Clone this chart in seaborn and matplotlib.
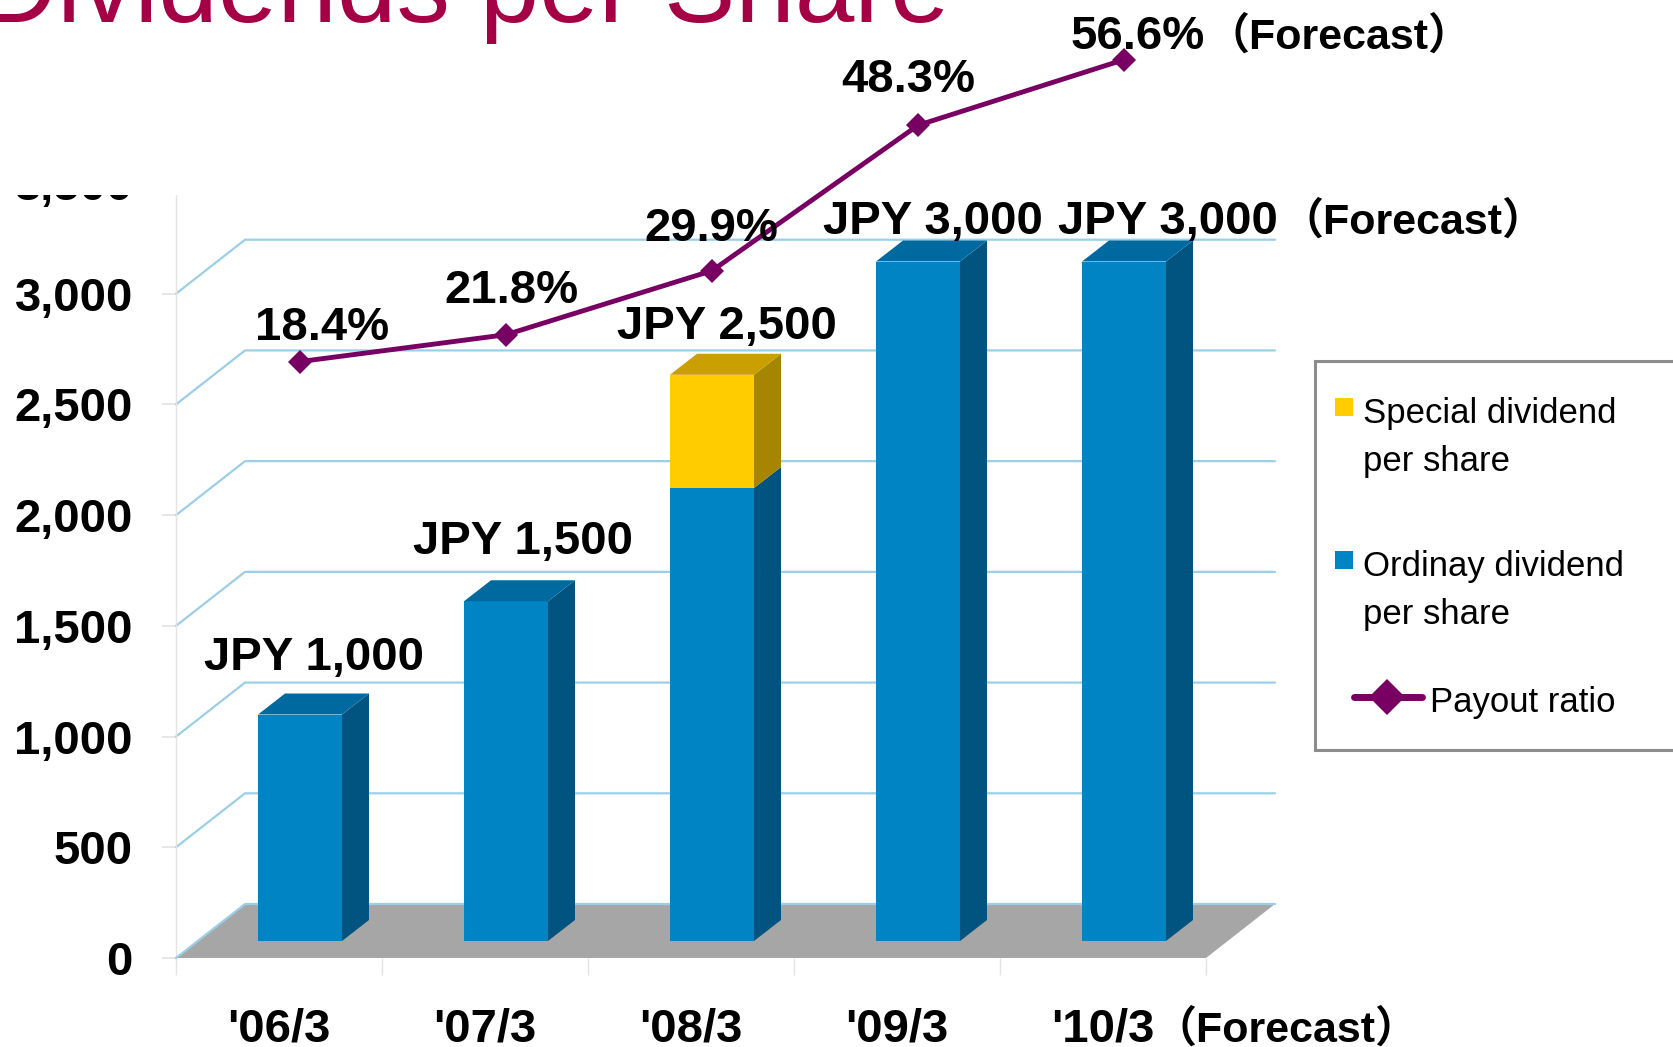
import numpy as np
import matplotlib.pyplot as plt
import matplotlib.patches as mpatches
from matplotlib.lines import Line2D
from matplotlib import font_manager
import seaborn as sns


# ------------------
# データ
# ------------------
PERIODS = ["'06/3", "'07/3", "'08/3", "'09/3", "'10/3"]
IS_FORECAST = [False, False, False, False, True]
ORDINARY_DPS = [1000, 1500, 2000, 3000, 3000]     # 普通配当 (JPY)
SPECIAL_DPS = [0, 0, 500, 0, 0]                   # 特別配当 (JPY)
PAYOUT_RATIO = [18.4, 21.8, 29.9, 48.3, 56.6]     # 配当性向 (%)
DPS_LABELS = ['JPY 1,000', 'JPY 1,500', 'JPY 2,500', 'JPY 3,000', 'JPY 3,000']
PAYOUT_LABELS = ['18.4%', '21.8%', '29.9%', '48.3%', '56.6%']
FORECAST_TEXT = '（Forecast）'
Y_TICKS = [0, 500, 1000, 1500, 2000, 2500, 3000, 3500]
LEGEND_LABELS = [['Special dividend', 'per share'],
                 ['Ordinay dividend', 'per share'],
                 ['Payout ratio']]
TITLE_TEXT = 'Dividends per Share'


# ------------------
# 見た目の設定
# ------------------
W, H = 1673, 1047
BLUE, BLUE_SIDE, BLUE_TOP = '#0084C4', '#00547F', '#006AA0'
YELLOW, YELLOW_SIDE, YELLOW_TOP = '#FFCC00', '#A68500', '#C9A000'
FLOOR = '#A6A6A6'
GRID = '#9ACFE7'
LINE = '#780063'
TITLE_COLOR = '#A50046'
FAINT = '#E4E4E4'
CJK = 'Noto Sans CJK JP'
FC_FAMILY = ['Liberation Sans', CJK]   # 全角括弧はCJKフォントで
FC_SIZE = 31

# 壁・床の奥行き (データ単位)
DX, DY = 69 / 206, 54 / (775 / 3500)
# 棒の位置・幅・奥行き
BX, BW = 21 / 206, 84 / 206
SDX, SDY = 27 / 206, 21 / 0.2265

# ラベル位置 (ピクセルオフセット)
DPS_OFFSETS = [(14, 45), (17, 47), (15, 36), (15, 28), (-66, 28)]
PAYOUT_OFFSETS = [(22, 22), (5, 32), (-1, 30), (-10, 33), (-53, 11)]
DPS_FC_OFFSET = (156, 28)        # 「（Forecast）」の位置
PAYOUT_FC_OFFSET = (82, 11)
AXIS_FC_OFFSET = (50, -84)

try:
    font_manager.findfont('Liberation Sans Narrow', fallback_to_default=False)
    LEG_FONT, LEG_SIZE = 'Liberation Sans Narrow', 30
except ValueError:
    LEG_FONT, LEG_SIZE = 'Liberation Sans', 25


def fx(px):
    return px / W


def fy(py):
    return 1 - py / H


def draw_walls(ax):
    """ 壁の目盛線と床 """
    x0, x1 = -0.5, len(PERIODS) - 0.5
    floor = mpatches.Polygon([(x0, 0), (x1, 0), (x1 + DX, DY), (x0 + DX, DY)],
                             closed=True, fc=FLOOR, ec='none', zorder=2, clip_on=False)
    ax.add_patch(floor)
    for v in Y_TICKS:
        ax.plot([x0, x0 + DX, x1 + DX], [v, v + DY, v + DY], color=GRID, lw=1.6,
                zorder=3 if v == 0 else 1, clip_on=False)

    # 軸の書式
    ax.set_xlim(x0, x1)
    ax.set_ylim(0, 3500)
    ax.set_yticks(Y_TICKS, labels=[f'{v:,}' for v in Y_TICKS])
    ax.set_xticks([])
    ax.set_xticks(np.arange(len(PERIODS) + 1) - 0.5, minor=True)
    for s in ['top', 'right', 'bottom']:
        ax.spines[s].set_visible(False)
    ax.spines['left'].set_color(FAINT)
    ax.spines['left'].set_linewidth(1)
    ax.tick_params(axis='y', left=True, length=10, color=FAINT, labelcolor='black',
                   pad=21, labelsize=34)
    ax.tick_params(axis='x', which='minor', bottom=True, length=12, color=FAINT)
    for t in ax.get_yticklabels():
        t.set_fontweight('bold')

    # 横軸ラベル
    for i, lab in enumerate(PERIODS):
        ax.annotate(lab, (i, 0), xycoords=('data', 'axes fraction'), xytext=(0, -84),
                    textcoords='offset pixels', ha='center', va='baseline',
                    fontsize=34, fontweight='bold', annotation_clip=False)
        if IS_FORECAST[i]:
            ax.annotate(FORECAST_TEXT, (i, 0), xycoords=('data', 'axes fraction'),
                        xytext=AXIS_FC_OFFSET, textcoords='offset pixels', ha='left',
                        va='baseline', fontsize=FC_SIZE, fontweight='bold',
                        family=FC_FAMILY, annotation_clip=False)


def draw_bars(ax):
    """ 3D風の積み上げ棒 """
    x = np.arange(len(PERIODS)) + BX
    ordinary = np.array(ORDINARY_DPS)
    special = np.array(SPECIAL_DPS)
    sns.barplot(x=x, y=ordinary, native_scale=True, width=BW, color=BLUE,
                saturation=1, errorbar=None, linewidth=0, ax=ax)
    sns.barplot(x=x, y=special, native_scale=True, width=BW, color=YELLOW,
                saturation=1, errorbar=None, linewidth=0, bottom=ordinary, ax=ax)

    for xi, o, s in zip(x, ordinary, special):
        segs = [(0, o, BLUE_SIDE, BLUE_TOP), (o, o + s, YELLOW_SIDE, YELLOW_TOP)]
        segs = [sg for sg in segs if sg[1] > sg[0]]
        xl, xr = xi - BW / 2, xi + BW / 2
        for b, t, side, _ in segs:
            ax.add_patch(mpatches.Polygon(
                [(xr, b), (xr + SDX, b + SDY), (xr + SDX, t + SDY), (xr, t)],
                closed=True, fc=side, ec='none', clip_on=False))
        t, top = segs[-1][1], segs[-1][3]
        ax.add_patch(mpatches.Polygon(
            [(xl, t), (xr, t), (xr + SDX, t + SDY), (xl + SDX, t + SDY)],
            closed=True, fc=top, ec='none', clip_on=False))

    # 金額ラベル
    for i, (lab, off) in enumerate(zip(DPS_LABELS, DPS_OFFSETS)):
        anchor = (x[i], ordinary[i] + special[i])
        ha = 'left' if IS_FORECAST[i] else 'center'
        ax.annotate(lab, anchor, xytext=off, textcoords='offset pixels', ha=ha,
                    va='baseline', fontsize=34, fontweight='bold', annotation_clip=False)
        if IS_FORECAST[i]:
            ax.annotate(FORECAST_TEXT, anchor, xytext=DPS_FC_OFFSET, textcoords='offset pixels',
                        ha='left', va='baseline', fontsize=FC_SIZE, fontweight='bold',
                        family=FC_FAMILY, annotation_clip=False)

    ax.set_xlim(-0.5, len(PERIODS) - 0.5)
    ax.set_ylim(-75, 3346.6)
    ax.set_axis_off()


def draw_payout(ax):
    """ 配当性向の折れ線 """
    x = np.arange(len(PERIODS)) + BX
    sns.lineplot(x=x, y=PAYOUT_RATIO, ax=ax, color=LINE, lw=3.5,
                 marker='D', markersize=12, markeredgewidth=0)
    for i, (xi, p, lab, off) in enumerate(zip(x, PAYOUT_RATIO, PAYOUT_LABELS, PAYOUT_OFFSETS)):
        ha = 'left' if IS_FORECAST[i] else 'center'
        ax.annotate(lab, (xi, p), xytext=off, textcoords='offset pixels',
                    ha=ha, va='baseline', fontsize=34, fontweight='bold',
                    annotation_clip=False)
        if IS_FORECAST[i]:
            ax.annotate(FORECAST_TEXT, (xi, p), xytext=PAYOUT_FC_OFFSET,
                        textcoords='offset pixels', ha='left', va='baseline',
                        fontsize=FC_SIZE, fontweight='bold', family=FC_FAMILY,
                        annotation_clip=False)
    ax.set_xlim((0 - 279) / 206, (W - 279) / 206)
    ax.set_ylim((507 - H) / 7.903, 507 / 7.903)
    ax.set_axis_off()


def draw_legend(fig):
    """ 凡例 (手描き) """
    box = mpatches.Rectangle((fx(1315), fy(750)), fx(1700) - fx(1315), fy(361) - fy(750),
                             transform=fig.transFigure, fc='white', ec='#8C8C8C',
                             lw=2.2, zorder=5)
    fig.add_artist(box)
    for (cy, color), lines in zip([(407, YELLOW), (560, BLUE)], LEGEND_LABELS[:2]):
        fig.add_artist(mpatches.Rectangle((fx(1335), fy(cy + 9)), 18 / W, 18 / H,
                                          transform=fig.transFigure, fc=color,
                                          ec='none', zorder=6))
        for k, line in enumerate(lines):
            fig.text(fx(1363), fy(cy + 16 + 48 * k), line, fontsize=LEG_SIZE,
                     family=LEG_FONT, va='baseline', zorder=6)
    fig.add_artist(Line2D([fx(1354), fx(1422)], [fy(697), fy(697)], color=LINE, lw=5,
                          solid_capstyle='round', transform=fig.transFigure, zorder=6))
    fig.add_artist(Line2D([fx(1387)], [fy(697)], color=LINE, marker='D', markersize=18,
                          markeredgewidth=0, transform=fig.transFigure, zorder=7))
    fig.text(fx(1430), fy(712), LEGEND_LABELS[2][0], fontsize=LEG_SIZE,
             family=LEG_FONT, va='baseline', zorder=6)


# ------------------
#  メイン処理
# ------------------
def main():
    sns.set_theme(style='white')
    plt.rcParams['font.family'] = ['Liberation Sans', CJK, 'DejaVu Sans']
    plt.rcParams['text.color'] = 'black'

    fig = plt.figure(figsize=(W / 100, H / 100), dpi=100)
    pos = [fx(176), fy(958), (1206 - 176) / W, (958 - 183) / H]

    ax = fig.add_axes(pos)
    ax.set_zorder(0)
    draw_walls(ax)

    ax_b = fig.add_axes(pos)
    ax_b.set_zorder(1)
    draw_bars(ax_b)

    # タイトル枠 (グラフ上部を隠す白地)
    cover = mpatches.Rectangle((0, fy(195)), fx(1300), 1 - fy(195),
                               transform=fig.transFigure, fc='white', ec='none', zorder=2)
    fig.add_artist(cover)

    ax_l = fig.add_axes([0, 0, 1, 1])
    ax_l.set_zorder(3)
    draw_payout(ax_l)

    fig.text(fx(-20), fy(22), TITLE_TEXT, fontsize=77, color=TITLE_COLOR,
             va='baseline', ha='left', zorder=4)

    draw_legend(fig)

    fig.savefig('out.png', dpi=100)


if __name__ == '__main__':
    main()
